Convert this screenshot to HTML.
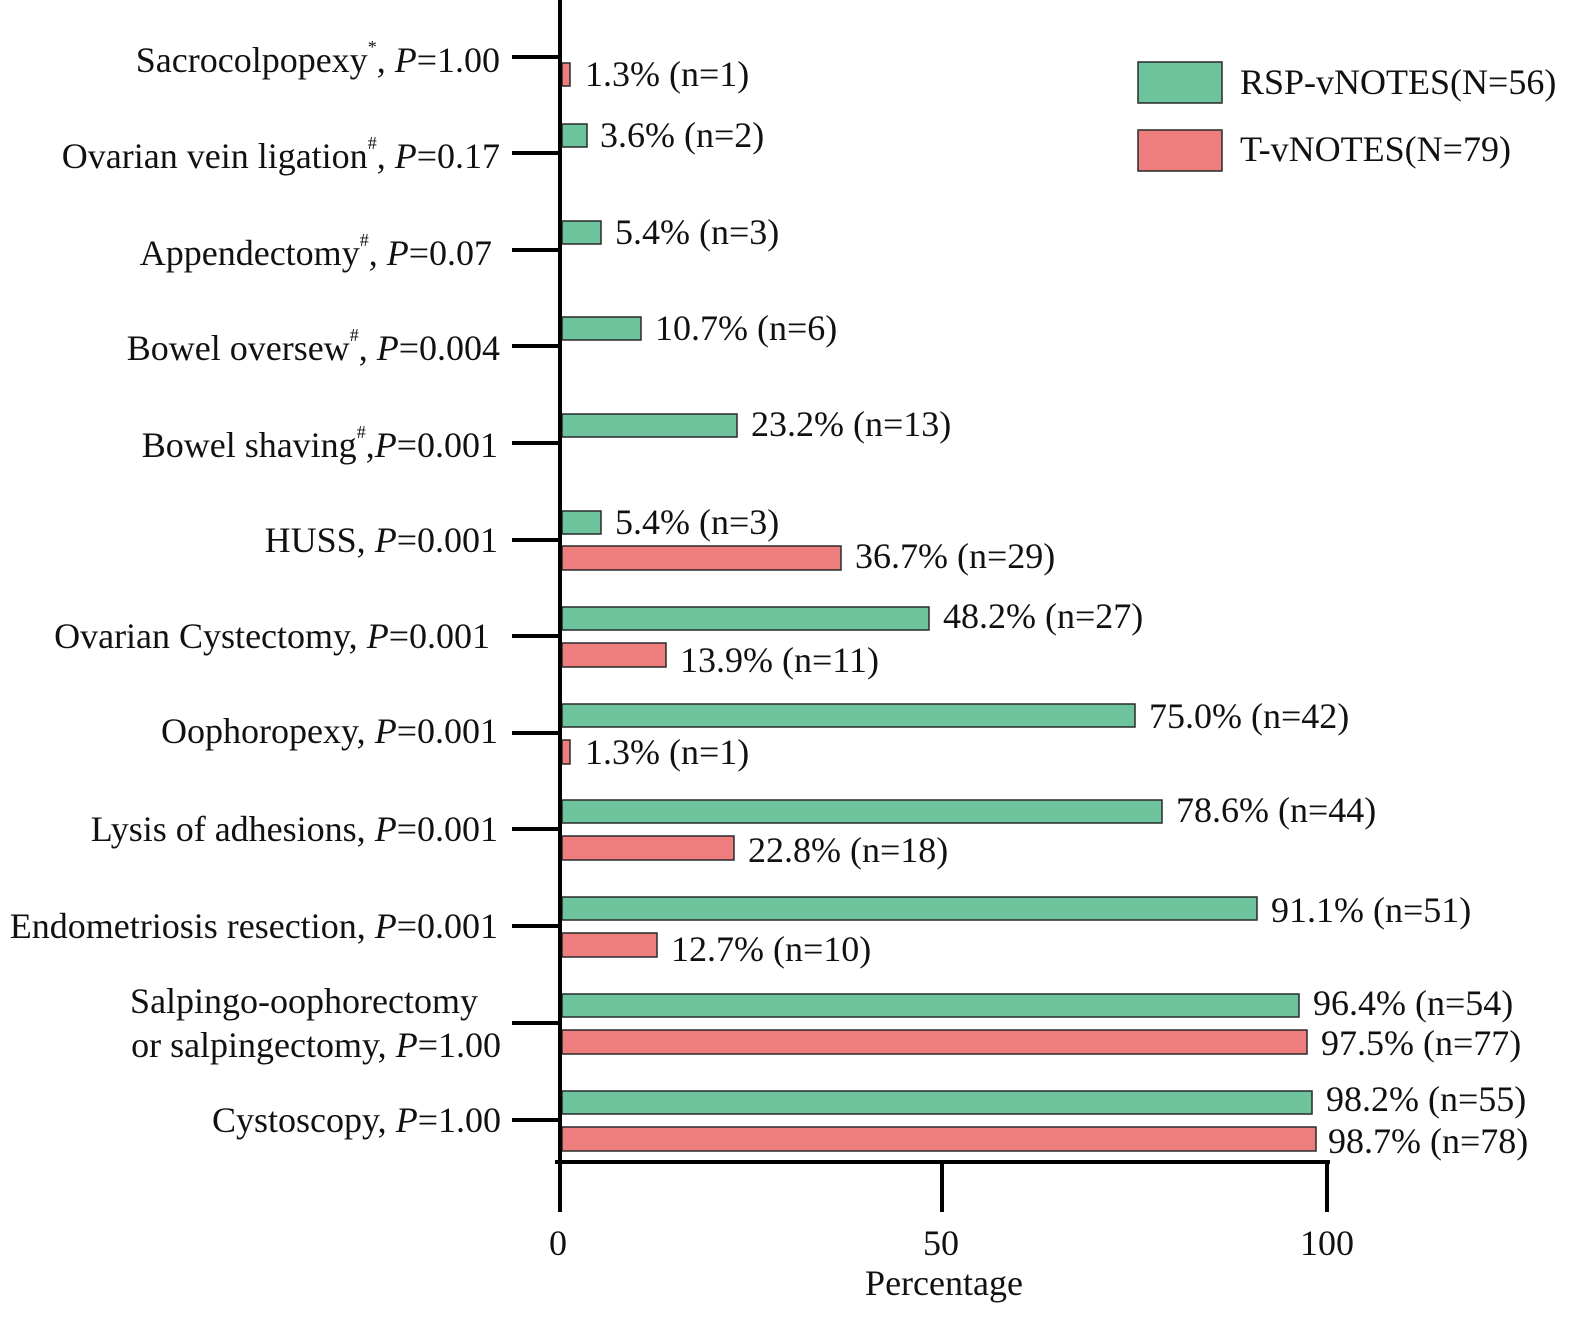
<!DOCTYPE html>
<html><head><style>body{margin:0;background:#fff}svg{display:block}text{font-family:"Liberation Serif",serif;fill:#111}</style></head><body>
<svg width="1594" height="1332" viewBox="0 0 1594 1332" xmlns="http://www.w3.org/2000/svg">
<g font-size="36">
<g stroke="#2a2a2a" stroke-width="1.5">
<rect x="562" y="63" width="8" height="23" fill="#ee7d7d"/>
<rect x="562" y="124" width="25" height="23" fill="#6cc39c"/>
<rect x="562" y="221" width="39" height="23" fill="#6cc39c"/>
<rect x="562" y="317" width="79" height="23" fill="#6cc39c"/>
<rect x="562" y="414" width="175" height="23" fill="#6cc39c"/>
<rect x="562" y="511" width="39" height="23" fill="#6cc39c"/>
<rect x="562" y="546" width="279" height="24" fill="#ee7d7d"/>
<rect x="562" y="607" width="367" height="23" fill="#6cc39c"/>
<rect x="562" y="643" width="104" height="24" fill="#ee7d7d"/>
<rect x="562" y="704" width="573" height="23" fill="#6cc39c"/>
<rect x="562" y="740" width="8" height="24" fill="#ee7d7d"/>
<rect x="562" y="800" width="600" height="23" fill="#6cc39c"/>
<rect x="562" y="836" width="172" height="24" fill="#ee7d7d"/>
<rect x="562" y="897" width="695" height="23" fill="#6cc39c"/>
<rect x="562" y="933" width="95" height="24" fill="#ee7d7d"/>
<rect x="562" y="994" width="737" height="23" fill="#6cc39c"/>
<rect x="562" y="1030" width="745" height="24" fill="#ee7d7d"/>
<rect x="562" y="1091" width="750" height="23" fill="#6cc39c"/>
<rect x="562" y="1127" width="754" height="24" fill="#ee7d7d"/>
</g>
<g dominant-baseline="central">
<text x="585" y="74">1.3% (n=1)</text>
<text x="600" y="135">3.6% (n=2)</text>
<text x="615" y="232">5.4% (n=3)</text>
<text x="655" y="328">10.7% (n=6)</text>
<text x="751" y="424">23.2% (n=13)</text>
<text x="615" y="522">5.4% (n=3)</text>
<text x="855" y="556">36.7% (n=29)</text>
<text x="943" y="616">48.2% (n=27)</text>
<text x="680" y="660">13.9% (n=11)</text>
<text x="1149" y="716">75.0% (n=42)</text>
<text x="585" y="752">1.3% (n=1)</text>
<text x="1176" y="810">78.6% (n=44)</text>
<text x="748" y="850">22.8% (n=18)</text>
<text x="1271" y="910">91.1% (n=51)</text>
<text x="671" y="949">12.7% (n=10)</text>
<text x="1313" y="1003">96.4% (n=54)</text>
<text x="1321" y="1043">97.5% (n=77)</text>
<text x="1326" y="1099">98.2% (n=55)</text>
<text x="1328" y="1141">98.7% (n=78)</text>
</g>
<g text-anchor="end" dominant-baseline="central">
<text x="500" y="60">Sacrocolpopexy<tspan font-size="18" dy="-13">*</tspan><tspan dy="13">, </tspan><tspan font-style="italic">P</tspan>=1.00</text>
<text x="500" y="156">Ovarian vein ligation<tspan font-size="18" dy="-13">#</tspan><tspan dy="13">, </tspan><tspan font-style="italic">P</tspan>=0.17</text>
<text x="492" y="253">Appendectomy<tspan font-size="18" dy="-13">#</tspan><tspan dy="13">, </tspan><tspan font-style="italic">P</tspan>=0.07</text>
<text x="500" y="348">Bowel oversew<tspan font-size="18" dy="-13">#</tspan><tspan dy="13">, </tspan><tspan font-style="italic">P</tspan>=0.004</text>
<text x="498" y="445">Bowel shaving<tspan font-size="18" dy="-13">#</tspan><tspan dy="13">,</tspan><tspan font-style="italic">P</tspan>=0.001</text>
<text x="498" y="540">HUSS, <tspan font-style="italic">P</tspan>=0.001</text>
<text x="490" y="636">Ovarian Cystectomy, <tspan font-style="italic">P</tspan>=0.001</text>
<text x="498" y="731">Oophoropexy, <tspan font-style="italic">P</tspan>=0.001</text>
<text x="498" y="829">Lysis of adhesions, <tspan font-style="italic">P</tspan>=0.001</text>
<text x="498" y="926">Endometriosis resection, <tspan font-style="italic">P</tspan>=0.001</text>
<text x="478" y="1001">Salpingo-oophorectomy</text>
<text x="501" y="1045">or salpingectomy, <tspan font-style="italic">P</tspan>=1.00</text>
<text x="501" y="1120">Cystoscopy, <tspan font-style="italic">P</tspan>=1.00</text>
</g>
<g stroke="#000" stroke-width="4">
<line x1="560" y1="0" x2="560" y2="1212"/>
<line x1="555" y1="1162" x2="1330" y2="1162"/>
<line x1="942" y1="1162" x2="942" y2="1212"/>
<line x1="1327" y1="1162" x2="1327" y2="1212"/>
<line x1="512" y1="57" x2="560" y2="57"/>
<line x1="512" y1="153" x2="560" y2="153"/>
<line x1="512" y1="250" x2="560" y2="250"/>
<line x1="512" y1="346" x2="560" y2="346"/>
<line x1="512" y1="443" x2="560" y2="443"/>
<line x1="512" y1="540" x2="560" y2="540"/>
<line x1="512" y1="636" x2="560" y2="636"/>
<line x1="512" y1="733" x2="560" y2="733"/>
<line x1="512" y1="829" x2="560" y2="829"/>
<line x1="512" y1="926" x2="560" y2="926"/>
<line x1="512" y1="1023" x2="560" y2="1023"/>
<line x1="512" y1="1120" x2="560" y2="1120"/>
</g>
<g text-anchor="middle" dominant-baseline="central">
<text x="558" y="1243">0</text>
<text x="941" y="1243">50</text>
<text x="1327" y="1243">100</text>
<text x="944" y="1283">Percentage</text>
</g>
<rect x="1138" y="62" width="84" height="41" fill="#6cc39c" stroke="#2a2a2a" stroke-width="1.5"/>
<rect x="1138" y="130" width="84" height="41" fill="#ee7d7d" stroke="#2a2a2a" stroke-width="1.5"/>
<g dominant-baseline="central">
<text x="1240" y="82">RSP-vNOTES(N=56)</text>
<text x="1240" y="149">T-vNOTES(N=79)</text>
</g>
</g>
</svg>
</body></html>
